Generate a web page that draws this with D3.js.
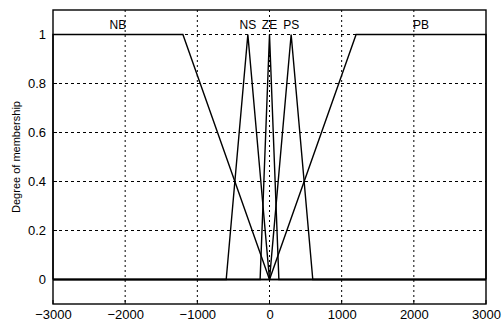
<!DOCTYPE html>
<html><head><meta charset="utf-8">
<script src="https://cdn.jsdelivr.net/npm/d3@7"></script>
<style>body{margin:0;background:#fff}svg{display:block}text{font-family:"Liberation Sans",Arial,sans-serif;fill:#000}</style>
</head><body><svg id="c" width="503" height="322"></svg>
<script>
const mfNames = ["NB","NS","ZE","PS","PB"];
const mfParams = [
  [-3000,-3000,-1200,0],
  [-600,-300,-300,0],
  [-130,0,0,130],
  [0,300,300,600],
  [0,1200,3000,3000]
];
const labelX = [-2100,-300,0,300,2100];
const xTicks = [-3000,-2000,-1000,0,1000,2000,3000];
const yTicks = [0,0.2,0.4,0.6,0.8,1];
const yTickLabels = ["0","0.2","0.4","0.6","0.8","1"];
const yLabel = "Degree of membership";

const svg = d3.select("#c");
const L=53,R=486,T=10,B=304;
const x = d3.scaleLinear().domain([-3000,3000]).range([L,R]);
const y = d3.scaleLinear().domain([-0.1,1.1]).range([B,T]);

// grid
const g = svg.append("g");
g.selectAll(".vg").data(xTicks.slice(1,-1)).enter().append("line")
 .attr("x1",d=>x(d)).attr("x2",d=>x(d)).attr("y1",T).attr("y2",B)
 .attr("stroke","#000").attr("stroke-width",1).attr("stroke-dasharray","2,3");
g.selectAll(".hg").data(yTicks).enter().append("line")
 .attr("y1",d=>y(d)).attr("y2",d=>y(d)).attr("x1",L).attr("x2",R)
 .attr("stroke","#000").attr("stroke-width",1).attr("stroke-dasharray","3,3");

// membership functions
const line = d3.line().x(d=>x(d[0])).y(d=>y(d[1]));
mfParams.forEach(p=>{
  const pts = [[-3000,0],[p[0],0],[p[1],1],[p[2],1],[p[3],0],[3000,0]];
  svg.append("path").attr("d",line(pts)).attr("fill","none")
    .attr("stroke","#000").attr("stroke-width",1.4).attr("stroke-linejoin","miter");
});

// labels
svg.selectAll(".lab").data(mfNames).enter().append("text")
 .attr("x",(d,i)=>x(labelX[i])).attr("y",y(1)-6).attr("text-anchor","middle")
 .attr("font-size",12).text(d=>d);

// box
svg.append("rect").attr("x",L).attr("y",T).attr("width",R-L).attr("height",B-T)
 .attr("fill","none").attr("stroke","#000").attr("stroke-width",1.4);

// axes
const xa = svg.append("g").attr("transform",`translate(0,${B})`)
 .call(d3.axisBottom(x).tickValues(xTicks).tickSize(0).tickPadding(6).tickFormat(d3.format("d")));
xa.select(".domain").remove();
xa.selectAll("text").attr("font-size",13).style("font-family","'Liberation Sans',Arial,sans-serif");
const ya = svg.append("g").attr("transform",`translate(${L},0)`)
 .call(d3.axisLeft(y).tickValues(yTicks).tickSize(0).tickPadding(7).tickFormat((d,i)=>yTickLabels[i]));
ya.select(".domain").remove();
ya.selectAll("text").attr("font-size",13).style("font-family","'Liberation Sans',Arial,sans-serif");
// inward ticks
svg.selectAll(".xt").data(xTicks).enter().append("line")
 .attr("x1",d=>x(d)).attr("x2",d=>x(d)).attr("y1",B).attr("y2",B-4).attr("stroke","#000");
svg.selectAll(".yt").data(yTicks).enter().append("line")
 .attr("y1",d=>y(d)).attr("y2",d=>y(d)).attr("x1",L).attr("x2",L+4).attr("stroke","#000");

svg.append("text").attr("transform",`translate(20,${(T+B)/2}) rotate(-90)`)
 .attr("text-anchor","middle").attr("font-size",11).text(yLabel);
</script></body></html>
